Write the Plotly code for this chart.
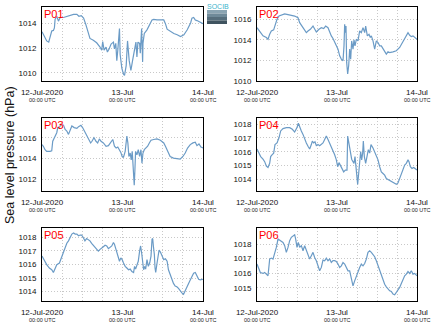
import pandas as pd
import plotly.graph_objects as go

# ---- Sea level pressure (hPa) at six stations, 12-14 Jul 2020 (hours since 12-Jul 00:00 UTC)
stations = ["P01", "P02", "P03", "P04", "P05", "P06"]

p01_hours = [0, 0.7, 1.4, 2.0, 2.4, 2.9, 3.4, 3.7, 3.9, 4.4, 4.9, 5.4, 6.4, 7.4, 8.4, 9.4, 10.4, 11.0, 11.7,
             12.4, 13.1, 13.8, 14.3, 15.3, 16.3, 17.3, 17.8, 18.1, 18.5, 19.1, 19.5, 20.0, 20.6, 21.3, 21.6,
             22.0, 22.3, 22.6, 23.1, 23.3, 23.8, 24.3, 24.6, 25.1, 25.5, 26.0, 26.5, 27.0, 27.5, 28.0, 28.3,
             28.6, 29.1, 29.3, 29.7, 30.0, 30.1, 30.5, 31.3, 32.3, 32.8, 33.3, 34.3, 36.3, 36.8, 37.3, 38.3,
             39.3, 40.3, 41.3, 42.3, 43.3, 44.3, 44.7, 45.2, 45.7, 46.2, 47.2, 48.0]
p01_hpa = [1013.35, 1012.95, 1012.6, 1012.5, 1013.0, 1013.4, 1013.45, 1013.65, 1014.35, 1014.6, 1014.2,
           1014.5, 1014.5, 1014.6, 1014.7, 1014.75, 1014.75, 1014.6, 1014.65, 1014.45, 1013.9, 1013.2, 1012.8,
           1012.65, 1012.45, 1012.1, 1011.85, 1012.55, 1011.85, 1012.1, 1011.7, 1011.95, 1012.35, 1012.5,
           1011.95, 1012.4, 1011.0, 1011.85, 1013.6, 1011.5, 1010.4, 1009.9, 1009.8, 1010.6, 1012.6, 1011.0,
           1010.2, 1011.0, 1011.8, 1012.5, 1011.3, 1012.5, 1012.4, 1011.6, 1013.6, 1010.9, 1012.4, 1013.2,
           1013.5, 1014.05, 1014.3, 1014.35, 1014.3, 1014.3, 1014.0, 1013.55, 1013.35, 1013.2, 1013.1,
           1012.95, 1013.1, 1013.5, 1014.05, 1014.45, 1014.5, 1014.3, 1014.25, 1014.1, 1014.0]

p02_hours = [0, 0.8, 1.8, 2.8, 3.3, 3.8, 4.3, 5.0, 5.6, 6.0, 6.6, 7.3, 8.3, 9.3, 10.3, 11.3, 12.3, 12.8, 13.8,
             14.8, 15.3, 16.0, 16.8, 17.3, 17.8, 18.6, 19.3, 20.0, 20.6, 21.3, 21.8, 22.3, 22.8, 23.3, 23.8,
             24.3, 24.8, 25.3, 25.8, 26.1, 26.3, 26.5, 26.7, 26.9, 27.2, 27.5, 27.8, 28.1, 28.4, 28.8, 29.1,
             29.4, 29.8, 30.3, 30.8, 31.3, 31.8, 32.3, 32.6, 33.1, 33.6, 34.0, 34.3, 34.8, 35.3, 35.8, 36.3,
             36.8, 37.3, 37.8, 38.3, 38.8, 39.3, 39.8, 40.8, 41.8, 42.8, 43.8, 44.6, 45.3, 45.8, 46.3, 46.8, 48.0]
p02_hpa = [1015.19, 1014.87, 1014.39, 1014.23, 1014.06, 1014.55, 1014.87, 1014.97, 1015.52, 1016.0, 1016.32,
           1016.39, 1016.52, 1016.45, 1016.39, 1016.32, 1016.16, 1015.68, 1015.19, 1014.71, 1014.87, 1015.03,
           1015.35, 1015.03, 1014.77, 1015.03, 1015.19, 1015.1, 1015.35, 1015.19, 1014.71, 1014.39, 1014.13,
           1013.81, 1013.42, 1013.1, 1012.45, 1012.13, 1011.97, 1013.42, 1015.52, 1014.71, 1015.35, 1011.81,
           1010.68, 1011.48, 1013.1, 1012.13, 1013.9, 1013.1, 1014.0, 1013.42, 1014.06, 1013.9, 1014.87,
           1014.71, 1015.19, 1014.71, 1015.35, 1014.39, 1014.55, 1014.23, 1014.39, 1013.9, 1013.1, 1013.9,
           1013.74, 1013.42, 1013.42, 1013.1, 1012.94, 1012.61, 1012.84, 1012.77, 1012.84, 1012.94, 1013.26,
           1013.9, 1014.39, 1014.71, 1014.45, 1014.32, 1014.39, 1014.06]

p03_hours = [0, 0.4, 0.9, 1.4, 2.4, 2.9, 3.2, 3.6, 3.9, 4.4, 4.7, 5.2, 5.6, 6.4, 6.9, 7.4, 7.9, 8.4, 8.9, 9.6,
             10.4, 10.9, 11.6, 12.1, 12.8, 13.5, 14.1, 14.5, 14.9, 15.5, 16.1, 16.6, 17.1, 17.6, 18.3, 19.1,
             19.8, 20.5, 21.1, 21.6, 22.1, 22.6, 23.1, 23.5, 23.9, 24.3, 24.8, 25.3, 25.6, 25.9, 26.3, 26.6,
             26.9, 27.1, 27.3, 27.5, 27.7, 27.9, 28.3, 28.7, 29.1, 29.5, 29.8, 30.1, 30.5, 31.0, 31.5, 32.0,
             32.5, 33.3, 34.3, 35.3, 35.8, 36.3, 36.8, 37.3, 37.8, 38.2, 39.2, 40.2, 41.2, 42.0, 42.7, 43.4,
             44.2, 45.0, 45.7, 46.2, 46.8, 47.4, 48.0]
p03_hpa = [1015.35, 1015.19, 1014.86, 1014.7, 1014.7, 1014.76, 1015.67, 1015.9, 1016.16, 1016.49, 1016.98,
           1016.98, 1017.3, 1017.2, 1016.81, 1016.65, 1016.33, 1016.81, 1017.14, 1016.98, 1016.91, 1017.07,
           1017.2, 1016.98, 1016.55, 1016.0, 1015.67, 1015.51, 1015.67, 1016.0, 1015.67, 1015.51, 1015.9,
           1015.67, 1015.51, 1015.19, 1015.25, 1015.51, 1015.84, 1015.19, 1015.02, 1015.12, 1014.86, 1014.6,
           1014.21, 1014.15, 1014.7, 1016.16, 1015.51, 1014.21, 1014.54, 1013.89, 1014.7, 1013.56, 1012.75,
           1011.45, 1012.91, 1014.7, 1014.37, 1014.86, 1014.21, 1014.86, 1013.56, 1014.54, 1014.86, 1015.02,
           1015.19, 1015.51, 1015.77, 1015.84, 1015.9, 1015.77, 1015.67, 1015.51, 1015.19, 1014.86, 1014.54,
           1014.21, 1014.05, 1013.98, 1013.95, 1014.21, 1014.54, 1015.02, 1015.35, 1015.51, 1015.58, 1015.25,
           1015.41, 1015.12, 1015.02]

p04_hours = [0, 0.6, 1.1, 1.8, 2.3, 2.8, 3.3, 3.8, 4.1, 4.5, 5.0, 5.4, 6.0, 6.6, 7.1, 7.8, 8.8, 9.8, 10.6, 11.3,
             12.0, 12.4, 12.8, 13.3, 13.8, 14.3, 14.8, 15.3, 15.8, 16.3, 16.6, 17.0, 17.4, 17.8, 18.3, 18.8,
             19.3, 19.8, 20.3, 20.8, 21.3, 21.8, 22.3, 22.8, 23.3, 23.8, 24.2, 24.6, 25.0, 25.5, 26.0, 26.5,
             27.0, 27.2, 27.5, 27.8, 28.1, 28.4, 28.8, 29.1, 29.4, 29.7, 30.0, 30.2, 30.5, 30.8, 31.1, 31.4,
             31.7, 31.9, 32.2, 32.6, 33.0, 33.4, 33.8, 34.2, 34.8, 35.3, 35.8, 36.3, 36.8, 37.3, 37.8, 38.3,
             38.8, 39.3, 39.8, 40.3, 40.8, 41.3, 41.8, 42.3, 42.8, 43.3, 43.8, 44.3, 44.8, 45.3, 45.6, 46.0,
             46.5, 47.0, 48.0]
p04_hpa = [1016.2, 1015.9, 1015.65, 1015.46, 1015.28, 1014.96, 1014.86, 1015.16, 1015.65, 1015.78, 1015.9,
           1016.52, 1016.64, 1017.01, 1017.51, 1017.68, 1017.75, 1017.75, 1017.63, 1017.43, 1017.75, 1018.07,
           1017.75, 1017.51, 1017.26, 1016.89, 1016.64, 1016.4, 1016.2, 1016.52, 1016.77, 1016.64, 1016.72,
           1016.44, 1016.52, 1016.44, 1016.52, 1016.64, 1016.89, 1017.14, 1016.89, 1016.64, 1016.27, 1016.02,
           1015.78, 1015.41, 1014.91, 1015.21, 1015.04, 1014.72, 1014.54, 1014.67, 1014.67, 1017.14, 1016.77,
           1016.4, 1015.9, 1015.46, 1015.28, 1015.16, 1015.65, 1015.04, 1014.17, 1013.63, 1014.42, 1015.41,
           1016.02, 1015.41, 1015.9, 1016.77, 1015.65, 1015.16, 1015.65, 1016.15, 1015.9, 1016.52, 1016.27,
           1016.02, 1015.65, 1015.41, 1014.91, 1014.54, 1014.42, 1014.3, 1014.05, 1013.98, 1013.93, 1013.88,
           1013.8, 1013.73, 1013.63, 1013.73, 1014.05, 1014.42, 1014.79, 1015.04, 1015.16, 1015.41, 1015.28,
           1014.91, 1014.79, 1014.86, 1014.67]

p05_hours = [0, 0.7, 1.4, 2.2, 2.9, 3.4, 3.9, 4.4, 5.2, 5.9, 6.4, 6.9, 7.4, 7.9, 8.4, 8.9, 9.4, 9.9, 10.4, 10.9,
             11.4, 11.8, 12.3, 12.8, 13.3, 13.8, 14.3, 14.8, 15.3, 15.8, 16.3, 16.8, 17.3, 17.8, 18.3, 18.8,
             19.3, 19.8, 20.3, 20.8, 21.3, 21.6, 21.9, 22.3, 22.8, 23.1, 23.5, 23.9, 24.3, 24.8, 25.3, 25.8,
             26.3, 26.8, 27.3, 27.6, 27.9, 28.3, 28.7, 29.1, 29.4, 29.7, 30.0, 30.3, 30.6, 30.9, 31.3, 31.7,
             32.1, 32.5, 32.8, 33.0, 33.2, 33.5, 33.7, 33.9, 34.3, 34.6, 34.9, 35.3, 35.8, 36.3, 36.8, 37.3,
             37.7, 38.2, 38.7, 39.2, 39.7, 40.2, 40.7, 41.2, 41.7, 42.2, 42.7, 43.2, 43.7, 44.2, 44.7, 45.2,
             45.7, 46.2, 46.7, 47.2, 48.0]
p05_hpa = [1016.62, 1016.24, 1015.99, 1015.74, 1015.61, 1015.41, 1015.74, 1015.99, 1016.11, 1016.62, 1016.87,
           1017.37, 1017.57, 1017.75, 1018.0, 1018.25, 1018.33, 1018.25, 1018.25, 1018.13, 1018.18, 1018.18,
           1018.0, 1017.75, 1017.92, 1017.82, 1017.75, 1017.57, 1017.42, 1017.32, 1017.12, 1016.99, 1017.12,
           1017.25, 1017.32, 1017.42, 1017.37, 1017.17, 1017.25, 1017.37, 1017.62, 1017.5, 1017.25, 1016.87,
           1016.49, 1016.24, 1016.49, 1016.36, 1016.11, 1015.86, 1015.74, 1015.61, 1015.66, 1015.48, 1015.41,
           1015.86, 1015.66, 1015.99, 1016.24, 1016.99, 1017.37, 1016.87, 1016.24, 1015.61, 1015.86, 1015.66,
           1016.36, 1015.86, 1016.11, 1016.62, 1017.87, 1017.92, 1017.37, 1016.74, 1015.74, 1015.41, 1016.11,
           1016.74, 1017.07, 1016.92, 1016.62, 1016.36, 1016.42, 1016.24, 1015.61, 1015.23, 1014.98, 1014.6,
           1014.4, 1014.35, 1014.23, 1014.05, 1013.9, 1013.8, 1014.05, 1014.23, 1014.6, 1014.86, 1015.16,
           1015.36, 1015.41, 1015.16, 1014.91, 1014.86, 1014.91]

p06_hours = [0, 0.5, 1.0, 1.8, 2.3, 2.8, 3.3, 3.8, 4.3, 4.8, 5.3, 5.8, 6.3, 6.8, 7.3, 7.8, 8.3, 8.8, 9.3, 9.8,
             10.3, 10.8, 11.3, 11.6, 12.0, 12.4, 12.8, 13.3, 13.8, 14.3, 14.8, 15.3, 15.8, 16.3, 16.8, 17.3,
             17.8, 18.3, 18.8, 19.3, 19.8, 20.3, 20.8, 21.3, 21.8, 22.3, 22.8, 23.3, 23.8, 24.3, 24.8, 25.3,
             25.8, 26.3, 26.8, 27.3, 27.8, 28.3, 28.8, 29.3, 29.8, 30.3, 30.8, 31.3, 31.8, 32.3, 32.8, 33.3,
             33.8, 34.3, 34.8, 35.3, 35.8, 36.3, 36.8, 37.3, 37.8, 38.3, 38.8, 39.3, 39.8, 40.3, 40.8, 41.3,
             41.8, 42.3, 42.8, 43.3, 43.8, 44.3, 44.8, 45.3, 45.8, 46.3, 46.8, 47.3, 48.0]
p06_hpa = [1016.63, 1016.28, 1016.05, 1015.99, 1016.05, 1015.94, 1015.83, 1016.97, 1017.04, 1016.97, 1017.31,
           1017.77, 1018.34, 1018.27, 1018.23, 1018.11, 1017.89, 1017.43, 1017.77, 1018.23, 1018.46, 1018.57,
           1018.64, 1018.34, 1017.77, 1018.11, 1017.77, 1017.89, 1017.54, 1017.89, 1017.54, 1017.31, 1016.97,
           1017.2, 1017.43, 1017.08, 1016.86, 1016.51, 1016.17, 1016.4, 1016.9, 1016.86, 1017.04, 1016.86,
           1016.97, 1016.74, 1016.86, 1016.86, 1016.81, 1016.63, 1016.4, 1016.51, 1016.74, 1016.63, 1016.44,
           1016.17, 1016.17, 1015.71, 1015.14, 1015.48, 1015.83, 1016.17, 1016.4, 1016.63, 1016.51, 1016.67,
           1016.97, 1017.43, 1017.54, 1017.43, 1017.31, 1017.13, 1016.86, 1016.51, 1016.17, 1015.83, 1015.48,
           1015.25, 1015.07, 1014.91, 1014.8, 1014.75, 1014.57, 1014.52, 1014.68, 1014.8, 1015.03, 1015.3,
           1015.6, 1015.83, 1015.94, 1016.12, 1015.99, 1016.17, 1015.94, 1015.99, 1015.83]

series_hours = [p01_hours, p02_hours, p03_hours, p04_hours, p05_hours, p06_hours]
series_hpa = [p01_hpa, p02_hpa, p03_hpa, p04_hpa, p05_hpa, p06_hpa]

# y-axis tick values for each panel
y_ticks = [
    [1010, 1012, 1014],
    [1010, 1012, 1014, 1016],
    [1012, 1014, 1016],
    [1014, 1015, 1016, 1017, 1018],
    [1014, 1015, 1016, 1017, 1018],
    [1015, 1016, 1017, 1018],
]
y_ranges = [
    [1009.35, 1015.35],
    [1010.0, 1017.2],
    [1010.9, 1017.9],
    [1013.15, 1018.45],
    [1013.3, 1018.7],
    [1014.1, 1019.1],
]

x_tick_labels = ["12-Jul-2020", "13-Jul", "14-Jul"]
x_tick_sublabel = "00:00 UTC"
y_title = "Sea level pressure (hPa)"

# ---- page geometry
W, H = 435, 327
start = pd.Timestamp("2020-07-12 00:00")
end = start + pd.Timedelta(hours=48)
tick_dates = [start + pd.Timedelta(days=d) for d in range(3)]

col_px = [(42, 203), (257, 417)]
row_px = [(7, 81), (118, 191), (228, 301)]

LINE = "#6b9bc6"
GRID = "#c8c8c8"
GRID_DASH = "1px,2px"
FONT = "Liberation Sans, Arial, sans-serif"

fig = go.Figure()
layout = dict(
    template="none",
    width=W, height=H,
    margin=dict(l=0, r=0, t=0, b=0, autoexpand=False),
    paper_bgcolor="white", plot_bgcolor="white",
    showlegend=False,
    font=dict(family=FONT, color="#222222"),
)
annotations = []

for i, name in enumerate(stations):
    n = i + 1
    r, c = divmod(i, 2)
    x0, x1 = col_px[c]
    top, bot = row_px[r]
    xa, ya = f"xaxis{n}", f"yaxis{n}"
    xs = "" if n == 1 else str(n)

    times = [start + pd.Timedelta(hours=h) for h in series_hours[i]]
    fig.add_trace(go.Scatter(
        x=times, y=series_hpa[i], mode="lines",
        line=dict(color=LINE, width=1.2),
        xaxis=f"x{xs}", yaxis=f"y{xs}", name=name,
    ))

    layout[xa] = dict(
        domain=[x0 / W, x1 / W], anchor=f"y{xs}", automargin=False,
        range=[start, end], type="date",
        tickvals=tick_dates, ticktext=x_tick_labels,
        tickfont=dict(size=8, color="#111111"),
        ticks="", ticklabelstandoff=3,
        showgrid=True, gridcolor=GRID, griddash=GRID_DASH, gridwidth=1,
        minor=dict(dtick=6 * 3600 * 1000, showgrid=True, gridcolor=GRID,
                   griddash=GRID_DASH, gridwidth=1),
        showline=True, linecolor="black", linewidth=1, mirror=True,
        zeroline=False, fixedrange=True,
    )
    layout[ya] = dict(
        domain=[1 - bot / H, 1 - top / H], anchor=f"x{xs}", automargin=False,
        range=y_ranges[i], tickvals=y_ticks[i],
        tickfont=dict(size=8, color="#111111"),
        ticks="", ticklabelstandoff=3,
        showgrid=True, gridcolor=GRID, griddash=GRID_DASH, gridwidth=1,
        showline=True, linecolor="black", linewidth=1, mirror=True,
        zeroline=False, fixedrange=True,
    )

    # station label in the upper-left corner
    annotations.append(dict(
        text=name, xref=f"x{xs} domain", yref=f"y{xs} domain",
        x=0, y=1, xanchor="left", yanchor="top", xshift=0, yshift=1,
        showarrow=False, font=dict(size=11, color="#ff0000", family=FONT),
    ))
    # second line under each date tick
    for d in tick_dates:
        annotations.append(dict(
            text=x_tick_sublabel, xref=f"x{xs}", yref=f"y{xs} domain",
            x=d, y=0, xanchor="center", yanchor="top", yshift=-13.5,
            showarrow=False, font=dict(size=5.5, color="#222222", family=FONT),
        ))

annotations.append(dict(
    text=y_title, xref="paper", yref="paper", x=10 / W, y=1 - 155 / H,
    xanchor="center", yanchor="middle", textangle=-90, showarrow=False,
    font=dict(size=12.5, color="#111111", family=FONT),
))

# small institutional logo between the top panels
annotations.append(dict(
    text="SOCIB", xref="paper", yref="paper", x=217.5 / W, y=1 - 6 / H,
    xanchor="center", yanchor="middle", showarrow=False,
    font=dict(size=7, color="#3ab4cc", family=FONT),
))
logo_bands = ["#8aa4b2", "#6f8a99", "#566e7c", "#3f535f"]
shapes = []
band_h = 14 / len(logo_bands)
for k, col in enumerate(logo_bands):
    yt = 10 + k * band_h
    shapes.append(dict(
        type="rect", xref="paper", yref="paper",
        x0=207 / W, x1=227 / W, y0=1 - (yt + band_h) / H, y1=1 - yt / H,
        fillcolor=col, line=dict(width=0), layer="above",
    ))

layout["annotations"] = annotations
layout["shapes"] = shapes
fig.update_layout(**layout)

fig.write_html("out.html", config={"displayModeBar": False})
